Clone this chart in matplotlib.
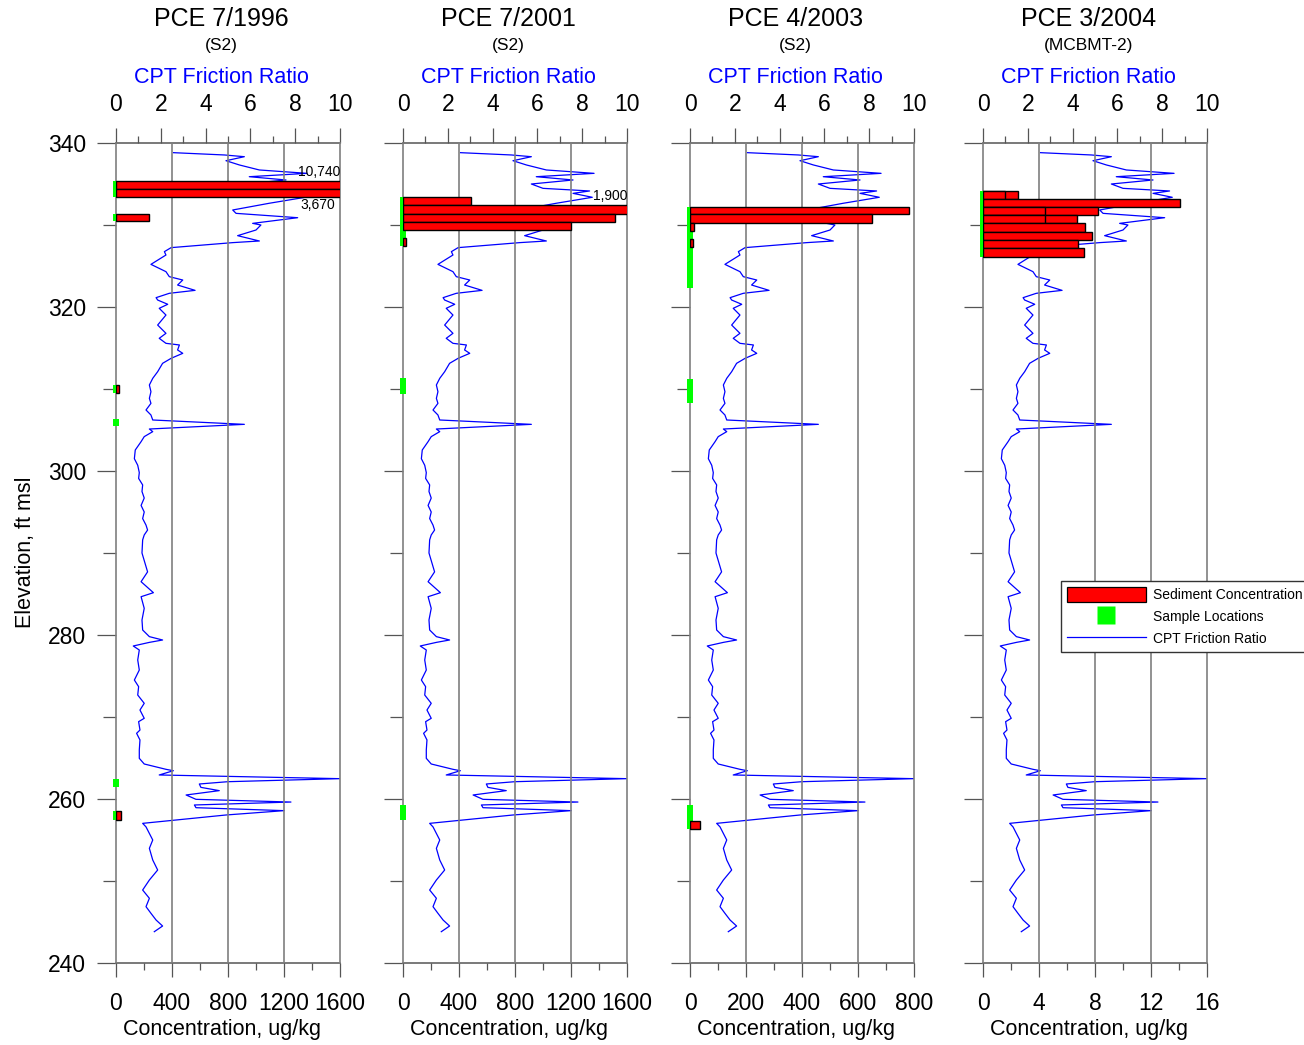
import matplotlib
matplotlib.use('Agg')
import matplotlib.pyplot as plt
from matplotlib.patches import Patch
from matplotlib.lines import Line2D
from matplotlib.ticker import MultipleLocator

plt.rcParams['font.family'] = ['Liberation Sans', 'DejaVu Sans']

# CPT friction ratio log (same boring log shown in every panel)
cpt_ratio = [2.57, 4.84, 5.73, 4.91, 5.51, 6.40, 8.53, 5.95, 7.59, 5.73, 6.25, 8.33,
             7.59, 8.45, 6.84, 5.21, 5.36, 8.11, 6.10, 6.47, 6.25, 5.43, 6.40, 5.21,
             2.46, 2.16, 2.23, 1.56, 2.23, 2.38, 2.98, 2.75, 3.53, 2.38, 1.79, 1.86,
             2.31, 1.93, 2.23, 1.86, 2.23, 1.93, 2.23, 2.83, 2.75, 2.98, 2.46, 2.08,
             1.86, 1.64, 1.49, 1.56, 1.49, 1.56, 1.34, 1.56, 1.64, 5.73, 1.49, 1.64,
             1.26, 1.12, 0.86, 0.82, 0.97, 1.04, 1.01, 1.19, 1.16, 1.26, 1.12, 1.26,
             1.19, 1.34, 1.41, 1.26, 1.19, 1.16, 1.41, 1.12, 1.67, 1.12, 1.26, 1.16,
             1.19, 1.49, 2.08, 1.49, 0.77, 1.04, 0.97, 1.04, 0.82, 1.01, 0.97, 1.26,
             1.07, 1.26, 1.01, 1.07, 0.92, 1.07, 1.04, 1.04, 1.26, 2.23, 2.56, 1.93,
             10.0, 4.99, 3.72, 3.79, 4.61, 3.13, 3.57, 7.81, 3.50, 3.57, 7.51, 4.91,
             1.19, 1.34, 1.64, 1.49, 1.64, 1.86, 1.49, 1.19, 1.49, 1.34, 1.56, 1.79,
             2.08, 1.71]
cpt_elev = [338.82, 338.54, 338.33, 337.84, 337.32, 336.71, 336.30, 335.89, 335.49, 335.00, 334.47, 334.15,
            333.86, 333.38, 332.65, 331.83, 331.42, 330.89, 330.20, 330.00, 329.39, 328.70, 328.05, 327.85,
            327.24, 326.75, 326.34, 325.20, 324.31, 323.70, 323.29, 322.68, 322.03, 321.67, 321.14, 320.85,
            320.33, 319.84, 319.02, 317.80, 316.79, 316.18, 315.57, 315.37, 314.76, 314.35, 313.74, 313.13,
            312.11, 311.30, 310.49, 309.67, 308.86, 308.25, 307.44, 306.83, 306.22, 305.69, 305.12, 304.80,
            304.19, 303.58, 302.56, 301.50, 300.70, 299.80, 299.10, 298.30, 297.50, 296.70, 295.80, 295.00,
            294.20, 293.40, 292.80, 292.20, 291.60, 290.00, 287.70, 286.50, 285.16, 284.67, 283.25, 281.83,
            280.61, 279.80, 279.39, 279.10, 278.66, 278.17, 276.95, 275.73, 274.51, 273.70, 272.68, 271.67,
            270.85, 269.84, 269.43, 268.41, 268.01, 267.20, 265.98, 264.96, 264.27, 263.62, 263.45, 262.93,
            262.48, 262.11, 261.83, 261.42, 261.02, 260.49, 259.96, 259.63, 259.27, 258.94, 258.58, 258.05,
            257.03, 256.60, 255.00, 253.98, 252.56, 251.34, 250.12, 248.90, 247.89, 246.87, 246.06, 245.24,
            244.51, 243.82]

titles = ['PCE 7/1996', 'PCE 7/2001', 'PCE 4/2003', 'PCE 3/2004']
borings = ['(S2)', '(S2)', '(S2)', '(MCBMT-2)']
conc_max = [1600, 1600, 800, 16]
conc_step = [400, 400, 200, 4]

# sediment concentration intervals (top elev, bottom elev, ug/kg)
c1_top = [335.4, 334.4, 331.4, 310.5, 258.5]
c1_bot = [334.4, 333.45, 330.5, 309.5, 257.4]
c1_val = [10740, 3670, 233, 20, 33]
c2_top = [333.4, 332.4, 331.4, 330.4, 328.4]
c2_bot = [332.4, 331.4, 330.4, 329.4, 327.4]
c2_val = [483, 1900, 1514, 1200, 19]
c3_top = [332.2, 331.3, 330.3, 328.3, 257.3]
c3_bot = [331.3, 330.3, 329.3, 327.3, 256.3]
c3_val = [783, 649, 15, 12, 36]
c4_top = [334.2, 334.2, 333.2, 332.2, 332.2, 331.2, 331.2, 330.2, 329.2, 328.2, 327.2]
c4_bot = [333.2, 333.2, 332.2, 331.2, 331.2, 330.2, 330.2, 329.2, 328.2, 327.2, 326.1]
c4_val = [2.5, 1.6, 14.1, 8.2, 4.4, 6.7, 4.4, 7.3, 7.8, 6.8, 7.2]

# sample locations (top elev, bottom elev)
s1_top = [335.4, 331.4, 310.5, 306.4, 262.4, 258.5]
s1_bot = [333.45, 330.5, 309.5, 305.5, 261.5, 257.4]
s2_top = [333.4, 311.3, 259.3]
s2_bot = [327.4, 309.4, 257.4]
s3_top = [332.2, 311.2, 259.3]
s3_bot = [322.3, 308.3, 256.3]
s4_top = [334.2]
s4_bot = [326.1]

conc = [(c1_top, c1_bot, c1_val), (c2_top, c2_bot, c2_val),
        (c3_top, c3_bot, c3_val), (c4_top, c4_bot, c4_val)]
samples = [(s1_top, s1_bot), (s2_top, s2_bot), (s3_top, s3_bot), (s4_top, s4_bot)]

# clipped bars labelled with their real values: panel, value text, x, y
notes = [(0, '10,740', 1600, 336.46), (0, '3,670', 1564, 332.44), (1, '1,900', 1600, 333.54)]

W, H = 1304, 1045
fig = plt.figure(figsize=(W / 100, H / 100), dpi=100)
lefts = [116, 403, 690, 983]
grey = '#555555'
tx = 0.471

for i in range(4):
    ax = fig.add_axes([lefts[i] / W, (H - 963) / H, 224 / W, 820 / H])
    # concentration axis on the bottom, drawn above the CPT log
    axc = ax.twiny()

    ax.plot(cpt_ratio, cpt_elev, color='#0000ff', lw=0.9)
    ax.set_xlim(0, 10)
    ax.set_ylim(240, 340)
    ax.xaxis.tick_top()
    ax.xaxis.set_label_position('top')
    ax.xaxis.set_major_locator(MultipleLocator(2))
    ax.xaxis.set_minor_locator(MultipleLocator(1))
    ax.yaxis.set_major_locator(MultipleLocator(20))
    ax.yaxis.set_minor_locator(MultipleLocator(10))
    ax.tick_params(axis='x', which='major', length=10.5, width=0.9, color=grey, labelsize=16.5, pad=9)
    ax.tick_params(axis='x', which='minor', length=5, width=0.9, color=grey)
    ax.tick_params(axis='y', which='major', length=13.7, width=0.9, color=grey, labelsize=16.5, pad=8)
    ax.tick_params(axis='y', which='minor', length=9.4, width=0.9, color=grey)
    for s in ['left', 'right']:
        ax.spines[s].set_visible(False)
    for s in ['top', 'bottom']:
        ax.spines[s].set_color(grey)
        ax.spines[s].set_linewidth(1.1)
    ax.set_xlabel('CPT Friction Ratio', color='#0000ff', fontsize=15.5, va='center')
    ax.xaxis.set_label_coords(tx, 1.0793)
    ax.text(tx, 1.1512, titles[i], transform=ax.transAxes, ha='center', va='center', fontsize=18)
    ax.text(tx, 1.1195, borings[i], transform=ax.transAxes, ha='center', va='center', fontsize=12.5)
    if i == 0:
        ax.set_ylabel('Elevation, ft msl', fontsize=15.5, va='center')
        ax.yaxis.set_label_coords(-0.406, 0.501)
    else:
        ax.tick_params(axis='y', labelleft=False)

    axc.set_xlim(0, conc_max[i])
    axc.set_ylim(240, 340)
    axc.xaxis.tick_bottom()
    axc.xaxis.set_label_position('bottom')
    axc.xaxis.set_major_locator(MultipleLocator(conc_step[i]))
    axc.xaxis.set_minor_locator(MultipleLocator(conc_step[i] / 2))
    axc.tick_params(axis='x', which='major', length=10, width=0.9, color=grey, labelsize=16.5, pad=11)
    axc.tick_params(axis='x', which='minor', length=5, width=0.9, color=grey)
    for s in axc.spines.values():
        s.set_visible(False)
    for v in range(0, conc_max[i] + 1, conc_step[i]):
        axc.axvline(v, color='#7f7f7f', lw=1.2, zorder=0.5, clip_on=False)
    axc.set_xlabel('Concentration, ug/kg', fontsize=15.5, va='center')
    axc.xaxis.set_label_coords(tx, -0.0805)

    half = 0.0156 * conc_max[i]
    st, sb = samples[i]
    axc.barh(sb, [2 * half] * len(sb), left=-half, height=[t - b for t, b in zip(st, sb)],
             align='edge', color='#00ff00', lw=0, zorder=1, clip_on=False)
    ct, cb, cv = conc[i]
    axc.barh(cb, cv, height=[t - b for t, b in zip(ct, cb)], align='edge',
             color='#ff0000', edgecolor='black', lw=1.0, zorder=2)
    for p, txt, x, y in notes:
        if p == i:
            axc.text(x, y, txt, ha='right', va='center', fontsize=10)

handles = [Patch(facecolor='#ff0000', edgecolor='black', lw=0.9),
           Line2D([], [], marker='s', color='none', markerfacecolor='#00ff00',
                  markeredgecolor='none', markersize=13.5, linestyle='none'),
           Line2D([], [], color='#0000ff', lw=0.9)]
fig.legend(handles, ['Sediment Concentration', 'Sample Locations', 'CPT Friction Ratio'],
           loc='upper left', bbox_to_anchor=(1061 / W, 1 - 581 / H), fontsize=10,
           frameon=True, fancybox=False, framealpha=1, edgecolor='#333333',
           handlelength=5.7, handleheight=1.3, labelspacing=0.5, borderpad=0.4,
           handletextpad=0.5, borderaxespad=0)

fig.savefig('out.png', dpi=100)
